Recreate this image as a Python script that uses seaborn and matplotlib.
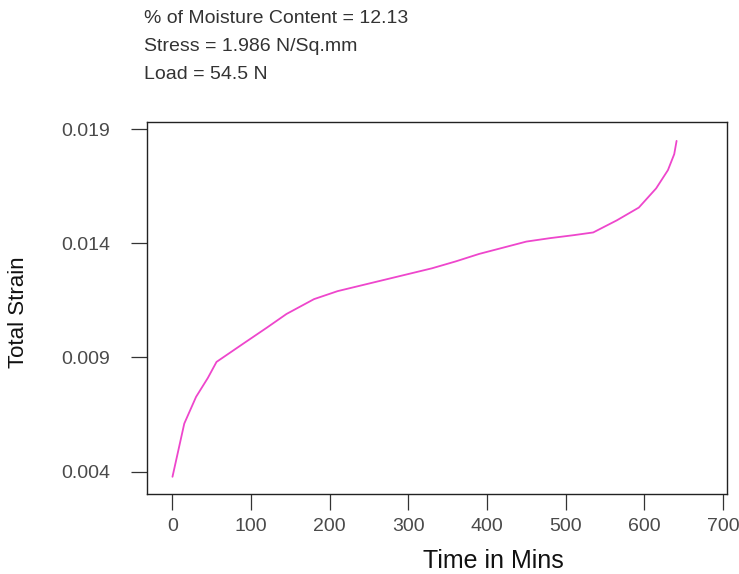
import matplotlib
matplotlib.use("Agg")
import matplotlib.pyplot as plt
import seaborn as sns
import pandas as pd

# Creep test readings: elapsed time (min) and total strain
time_min = [0, 15, 30, 45, 56, 90, 120, 145, 180, 210, 240, 270, 300, 330,
            360, 390, 420, 450, 480, 510, 535, 565, 593, 615, 630, 638, 641]
total_strain = [0.00377, 0.0061, 0.00727, 0.0081, 0.0088, 0.0096, 0.0103,
                0.0109, 0.01155, 0.0119, 0.01215, 0.0124, 0.01265, 0.0129,
                0.0132, 0.01353, 0.0138, 0.01407, 0.01422, 0.01435, 0.01447,
                0.0150, 0.01556, 0.0164, 0.0172, 0.0179, 0.01848]

x_ticks = [0, 100, 200, 300, 400, 500, 600, 700]
y_ticks = [0.004, 0.009, 0.014, 0.019]
y_tick_labels = ["0.004", "0.009", "0.014", "0.019"]

header_lines = ["% of Moisture Content = 12.13",
                "Stress = 1.986 N/Sq.mm",
                "Load = 54.5 N"]

sns.set_theme(style="white")
plt.rcParams["font.family"] = ["Liberation Sans", "DejaVu Sans"]

df = pd.DataFrame({"Time in Mins": time_min, "Total Strain": total_strain})

W, H = 739, 574
fig = plt.figure(figsize=(W / 100, H / 100), dpi=100)
ax = fig.add_axes([147 / W, 1 - 494 / H, 580 / W, 372 / H])

sns.lineplot(data=df, x="Time in Mins", y="Total Strain", ax=ax,
             color="#ee46cc", linewidth=1.3, sort=False)

ax.set_xlim(-32.4, 705.1)
ax.set_ylim(0.003015, 0.019307)
ax.set_xticks(x_ticks)
ax.set_xticklabels([str(t) for t in x_ticks])
ax.set_yticks(y_ticks)
ax.set_yticklabels(y_tick_labels)

for side in ["top", "right", "bottom", "left"]:
    ax.spines[side].set_visible(True)
    ax.spines[side].set_color("#222222")
    ax.spines[side].set_linewidth(1.0)

ax.tick_params(axis="both", which="major", direction="out", length=11.5,
               width=0.9, color="#333333", labelcolor="#4a4a4a",
               labelsize=14, bottom=True, left=True)
ax.tick_params(axis="x", pad=6)
ax.tick_params(axis="y", pad=15)

ax.set_xlabel("Time in Mins", fontsize=18, color="#111111", va="baseline")
ax.xaxis.set_label_coords((493 - 147) / 580, (494 - 567.5) / 372)
ax.set_ylabel("Total Strain", fontsize=16, color="#111111", va="center")
ax.yaxis.set_label_coords((19 - 147) / 580, (494 - 312) / 372)

for i, line in enumerate(header_lines):
    fig.text(144 / W, 1 - (23 + 28 * i) / H, line, fontsize=14,
             color="#333333", va="baseline", ha="left")

fig.savefig("out.png", dpi=100)
